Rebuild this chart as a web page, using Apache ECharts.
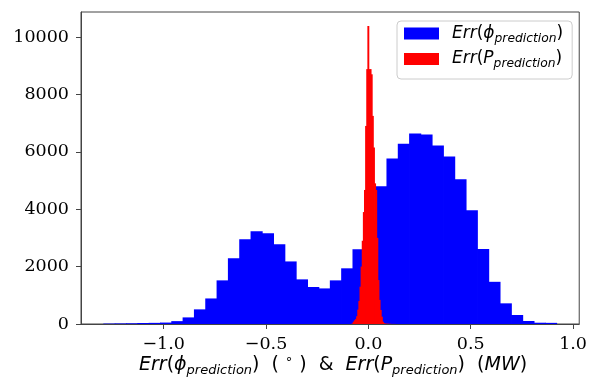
<!DOCTYPE html>
<html>
<head>
<meta charset="utf-8">
<script src="https://cdn.jsdelivr.net/npm/echarts@6/dist/echarts.min.js"></script>
<style>
  html, body { margin: 0; padding: 0; background: #fff; }
  #chart { width: 590px; height: 380px; }
</style>
</head>
<body>
<div id="chart"></div>
<script>
// histogram of phase error (40 bins)
const phiStart = -1.293
const phiWidth = 0.05533
const phiCounts = [15, 20, 25, 35, 40, 50, 100, 230, 510, 890,
  1520, 2290, 2950, 3230, 3160, 2775, 2180, 1555, 1290, 1240,
  1520, 1940, 2600, 3590, 4795, 5770, 6280, 6640, 6605, 6220,
  5840, 5040, 3960, 2610, 1470, 720, 313, 105, 45, 40]

// histogram of power error (40 bins)
const pStart = -0.080
const pWidth = 0.0055
const pCounts = [20, 80, 130, 170, 270, 500, 800, 1300, 2000, 2900,
  3900, 4670, 6900, 8880, 10380, 8880, 8880, 8700, 7250, 6150,
  4900, 4670, 3000, 1530, 840, 490, 255, 80, 30, 15,
  10, 10, 8, 5, 5, 3, 3, 2, 2, 1]

const xTicks = [-1.0, -0.5, 0.0, 0.5, 1.0]
const yTicks = [0, 2000, 4000, 6000, 8000, 10000]

function toBins(start, width, counts) {
  return counts.map((c, i) => [start + i * width, start + (i + 1) * width, c])
}

function histRender(color) {
  return function (params, api) {
    const p0 = api.coord([api.value(0), api.value(2)])
    const p1 = api.coord([api.value(1), 0])
    // widen a little so neighbouring bars leave no seam
    return {
      type: 'rect',
      shape: { x: p0[0] - 0.4, y: p0[1], width: p1[0] - p0[0] + 0.8, height: p1[1] - p0[1] },
      style: { fill: color }
    }
  }
}

const serif = 'DejaVu Serif'
const sans = 'DejaVu Sans'
const rich = {
  m: { fontFamily: sans, fontStyle: 'italic', fontSize: 17, lineHeight: 22, color: '#000' },
  r: { fontFamily: sans, fontSize: 17, lineHeight: 22, color: '#000' },
  s: { fontFamily: sans, fontStyle: 'italic', fontSize: 12.3, lineHeight: 15, verticalAlign: 'bottom', color: '#000' }
}
const xrich = {
  m: { fontFamily: sans, fontStyle: 'italic', fontSize: 19, lineHeight: 24, color: '#000' },
  r: { fontFamily: sans, fontSize: 19, lineHeight: 24, color: '#000' },
  s: { fontFamily: sans, fontStyle: 'italic', fontSize: 13, lineHeight: 17, verticalAlign: 'bottom', color: '#000' },
  u: { fontFamily: sans, fontSize: 13, lineHeight: 16, verticalAlign: 'top', color: '#000' }
}

const chart = echarts.init(document.getElementById('chart'))
chart.setOption({
  animation: false,
  grid: { left: 81, top: 12, right: 9, bottom: 56, show: true, borderColor: '#444', borderWidth: 1 },
  legend: {
    orient: 'vertical',
    left: 397,
    top: 21,
    padding: [4, 9, 9, 7],
    itemGap: 6,
    itemWidth: 35,
    itemHeight: 12,
    icon: 'rect',
    backgroundColor: '#fff',
    borderColor: '#cccccc',
    borderWidth: 1,
    borderRadius: 4,
    textStyle: { padding: [0, 0, 0, 8], rich: rich },
    formatter: function (name) {
      if (name === 'phi') return '{m|Err}{r|(}{m|ϕ}{s|prediction}{r|)}'
      return '{m|Err}{r|(}{m|P}{s|prediction}{r|)}'
    },
    data: ['phi', 'P']
  },
  xAxis: {
    type: 'value',
    min: -1.404,
    max: 1.030,
    splitLine: { show: false },
    axisLine: { onZero: false, lineStyle: { color: '#444' } },
    axisTick: { show: true, length: 5, customValues: xTicks, lineStyle: { color: '#444' } },
    axisLabel: {
      customValues: xTicks,
      margin: 11,
      fontFamily: serif,
      fontSize: 17.5,
      color: '#000',
      formatter: v => (v < 0 ? '\u2212' : '') + Math.abs(v).toFixed(1)
    }
  },
  yAxis: {
    type: 'value',
    min: 0,
    max: 10870,
    splitLine: { show: false },
    axisLine: { show: true, onZero: false, lineStyle: { color: '#444' } },
    axisTick: { show: true, length: 5, customValues: yTicks, lineStyle: { color: '#444' } },
    axisLabel: { customValues: yTicks, margin: 12, fontFamily: serif, fontSize: 17.5, color: '#000', formatter: v => String(v) }
  },
  graphic: [{
    type: 'text',
    left: 139,
    top: 353,
    style: {
      text: '{m|Err}{r|(}{m|ϕ}{s|prediction}{r|)  ( }{u|∘}{r| )  &  }{m|Err}{r|(}{m|P}{s|prediction}{r|)  (}{m|MW}{r|)}',
      rich: xrich
    }
  }],
  series: [
    {
      name: 'phi',
      type: 'custom',
      itemStyle: { color: '#0000ff' },
      renderItem: histRender('#0000ff'),
      encode: { x: [0, 1], y: 2 },
      data: toBins(phiStart, phiWidth, phiCounts)
    },
    {
      name: 'P',
      type: 'custom',
      itemStyle: { color: '#ff0000' },
      renderItem: histRender('#ff0000'),
      encode: { x: [0, 1], y: 2 },
      data: toBins(pStart, pWidth, pCounts)
    }
  ]
})
</script>
</body>
</html>
